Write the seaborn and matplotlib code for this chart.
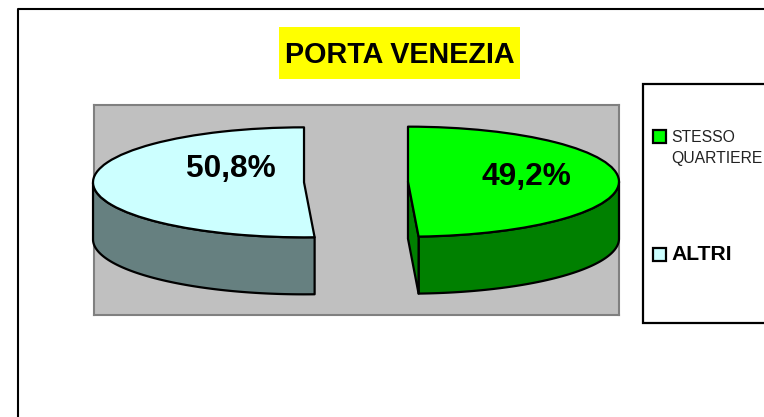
import numpy as np
import matplotlib
matplotlib.use("Agg")
import matplotlib.pyplot as plt
from matplotlib.patches import Rectangle, Polygon
import seaborn as sns

# data
labels = ["STESSO\nQUARTIERE", "ALTRI"]
values = [49.2, 50.8]
title = "PORTA VENEZIA"

top_colors = ["#00FF00", "#CCFFFF"]
side_colors = ["#008000", "#668080"]

sns.set_theme(style="white")
plt.rcParams["font.family"] = ["Liberation Sans", "DejaVu Sans"]

W, H = 764, 417
fig = plt.figure(figsize=(W / 100, H / 100), dpi=100, facecolor="white")

# plot area of the pie, one data unit = pie radius
left, right, top, bottom = 94, 619, 105, 315
cx, cy, rx, ry = 356, 182, 211, 55
depth = 57 / ry
edge = dict(edgecolor="black", linewidth=1.6, joinstyle="round")

ax = fig.add_axes([left / W, 1 - bottom / H, (right - left) / W, (bottom - top) / H])
wedges, _ = ax.pie(values, startangle=90, counterclock=False, colors=top_colors,
                   explode=[52 / rx, 52 / rx], wedgeprops=edge, frame=True)
ax.set_aspect("auto")
ax.set_xlim((left - cx) / rx, (right - cx) / rx)
ax.set_ylim((cy - bottom) / ry, (cy - top) / ry)
ax.set_xticks([])
ax.set_yticks([])
ax.set_facecolor("#C0C0C0")
for s in ax.spines.values():
    s.set_color("#808080")
    s.set_linewidth(1.5)
    s.set_visible(True)

# extruded sides of the 3D look
for w, side in zip(wedges, side_colors):
    w.set_zorder(5)
    w.set_clip_on(False)
    x0, y0 = w.center
    ang = np.radians(np.linspace(w.theta1, w.theta2, 300))
    ang = ang[np.sin(ang) <= 0]
    xs = x0 + np.cos(ang)
    ys = y0 + np.sin(ang)
    rim = np.r_[np.c_[xs, ys], np.c_[xs[::-1], ys[::-1] - depth]]
    ax.add_patch(Polygon(rim, closed=True, facecolor=side, zorder=3, clip_on=False, **edge))
    # cut face is only visible on the slice that opens to the left
    if np.cos(np.radians(w.theta1)) > 0 and w.theta2 > 0:
        ex, ey = x0 + np.cos(np.radians(w.theta1)), y0 + np.sin(np.radians(w.theta1))
        face = [(x0, y0), (ex, ey), (ex, ey - depth), (x0, y0 - depth)]
        ax.add_patch(Polygon(face, closed=True, facecolor=side, zorder=4, clip_on=False, **edge))

# overlay in pixel coordinates for frame, title and legend
over = fig.add_axes([0, 0, 1, 1], zorder=10)
over.set_xlim(0, W)
over.set_ylim(H, 0)
over.axis("off")

over.plot([18, 18, W + 5], [H + 5, 9, 9], color="black", lw=1.5, clip_on=True)

over.add_patch(Rectangle((279, 27), 241, 52, facecolor="#FFFF00", edgecolor="none"))
over.text(399.5, 55, title, ha="center", va="center", fontsize=20.7, fontweight="bold", color="black")

over.text(231, 169, f"{values[1]:.1f}%".replace(".", ","), ha="center", va="center",
          fontsize=22.8, fontweight="bold", color="black")
over.text(526.5, 177, f"{values[0]:.1f}%".replace(".", ","), ha="center", va="center",
          fontsize=22.8, fontweight="bold", color="black")

# legend box runs off the right side
over.add_patch(Rectangle((643, 84), W, 239, facecolor="white", edgecolor="black", linewidth=1.6))
over.add_patch(Rectangle((652.5, 129.5), 13, 13, facecolor=top_colors[0], edgecolor="black", linewidth=1.6))
over.add_patch(Rectangle((652.5, 247.5), 13, 13, facecolor=top_colors[1], edgecolor="black", linewidth=1.6))
line1, line2 = labels[0].split("\n")
over.text(671.5, 137.5, line1, ha="left", va="center", fontsize=11.3, color="#222222")
over.text(671.5, 158, line2, ha="left", va="center", fontsize=11.3, color="#222222")
over.text(671.5, 255, labels[1], ha="left", va="center", fontsize=15.2, fontweight="bold", color="black")

fig.savefig("out.png", dpi=100, facecolor="white")
